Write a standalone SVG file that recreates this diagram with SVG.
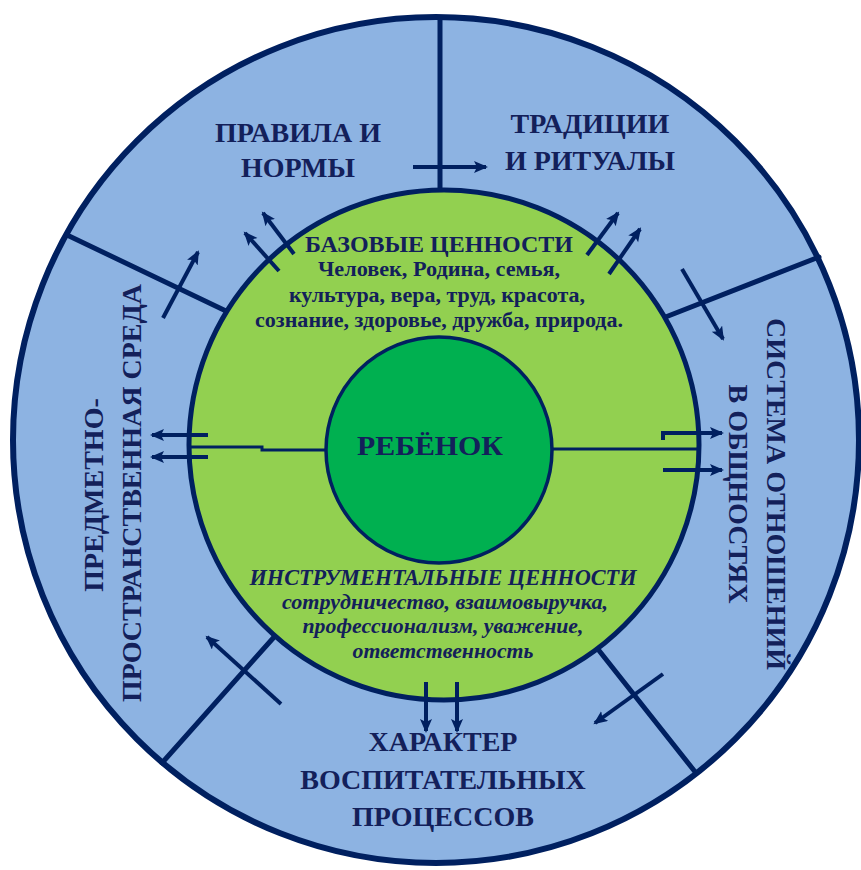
<svg xmlns="http://www.w3.org/2000/svg" width="861" height="870" viewBox="0 0 861 870">
<style>
.lbl{font-family:"Liberation Serif","Times New Roman",serif;font-weight:bold;fill:#13205a;text-anchor:middle}
.big{font-size:28px}
.mid{font-size:23px}
.sm{font-size:20px}
.it{font-style:italic}
.spoke{stroke:#002060;stroke-width:5;fill:none;stroke-linecap:round}
.arr{stroke:#002060;stroke-width:4;fill:none;marker-end:url(#ah)}
.thin{stroke:#002060;stroke-width:3;fill:none}
</style>
<defs>
<marker id="ah" markerUnits="userSpaceOnUse" markerWidth="16" markerHeight="14" refX="12" refY="6" orient="auto">
<path d="M0,0 L14,6 L0,12 L3,6 z" fill="#002060"/>
</marker>
</defs>
<rect width="861" height="870" fill="#ffffff"/>
<g id="outer-ring">
<circle cx="436" cy="440" r="423" fill="#8db3e2" stroke="#002060" stroke-width="6"/>
</g>
<g id="connectors">
<line class="spoke" x1="440" y1="18" x2="440" y2="190"/>
<line class="spoke" x1="67" y1="235" x2="226" y2="311"/>
<line class="spoke" x1="663" y1="318" x2="819" y2="257"/>
<line class="spoke" x1="275" y1="636" x2="162" y2="763"/>
<line class="spoke" x1="597" y1="648" x2="696" y2="773"/>
</g>
<g id="values-circle">
<circle cx="444" cy="445" r="255" fill="#92d050" stroke="#002060" stroke-width="5"/>
</g>
<g id="links">
<polyline class="thin" points="189,447 262,447 262,450 326,450"/>
<line class="thin" x1="552" y1="449" x2="699" y2="449"/>
</g>
<g id="child">
<circle cx="439" cy="450" r="113" fill="#00b050" stroke="#002060" stroke-width="3.5"/>
<text class="lbl big" x="430" y="455" textLength="146" lengthAdjust="spacingAndGlyphs">РЕБЁНОК</text>
</g>
<g id="arrows">
<line class="arr" x1="413" y1="167" x2="486" y2="167"/>
<line class="arr" x1="294" y1="254" x2="263" y2="213"/>
<line class="arr" x1="279" y1="271" x2="245" y2="233"/>
<line class="arr" x1="587" y1="255" x2="618" y2="213"/>
<line class="arr" x1="609" y1="274" x2="640" y2="229"/>
<line class="arr" x1="163" y1="318" x2="198" y2="252"/>
<line class="arr" x1="682" y1="269" x2="723" y2="339"/>
<line class="arr" x1="208" y1="435" x2="152" y2="435"/>
<line class="arr" x1="208" y1="457" x2="152" y2="457"/>
<polyline class="arr" points="663,440 663,433 722,433"/>
<line class="arr" x1="663" y1="470" x2="722" y2="470"/>
<line class="arr" x1="426" y1="682" x2="426" y2="731"/>
<line class="arr" x1="457" y1="682" x2="457" y2="731"/>
<line class="arr" x1="281" y1="704" x2="207" y2="637"/>
<line class="arr" x1="663" y1="674" x2="595" y2="723"/>
</g>
<g id="rules-norms">
<text class="lbl big" x="298" y="142">ПРАВИЛА И</text>
<text class="lbl big" x="298" y="177">НОРМЫ</text>
</g>
<g id="traditions">
<text class="lbl big" x="590" y="133">ТРАДИЦИИ</text>
<text class="lbl big" x="590" y="170">И РИТУАЛЫ</text>
</g>
<g id="relations">
<text class="lbl big" transform="translate(767,494) rotate(90)">СИСТЕМА ОТНОШЕНИЙ</text>
<text class="lbl big" transform="translate(729,494) rotate(90)">В ОБЩНОСТЯХ</text>
</g>
<g id="processes">
<text class="lbl big" x="443" y="751">ХАРАКТЕР</text>
<text class="lbl big" x="443" y="789">ВОСПИТАТЕЛЬНЫХ</text>
<text class="lbl big" x="443" y="826">ПРОЦЕССОВ</text>
</g>
<g id="environment">
<text class="lbl big" transform="translate(103,495) rotate(-90)">ПРЕДМЕТНО-</text>
<text class="lbl big" transform="translate(141,493) rotate(-90)">ПРОСТРАНСТВЕННАЯ СРЕДА</text>
</g>
<g id="base-values">
<text class="lbl mid" x="439" y="252" textLength="268" lengthAdjust="spacingAndGlyphs">БАЗОВЫЕ ЦЕННОСТИ</text>
<text class="lbl sm" x="439" y="276" textLength="242" lengthAdjust="spacingAndGlyphs">Человек, Родина, семья,</text>
<text class="lbl sm" x="437" y="302" textLength="296" lengthAdjust="spacingAndGlyphs">культура, вера, труд, красота,</text>
<text class="lbl sm" x="439" y="327" textLength="368" lengthAdjust="spacingAndGlyphs">сознание, здоровье, дружба, природа.</text>
</g>
<g id="instrumental-values">
<text class="lbl mid it" x="443" y="585" textLength="387" lengthAdjust="spacingAndGlyphs">ИНСТРУМЕНТАЛЬНЫЕ ЦЕННОСТИ</text>
<text class="lbl sm it" x="445" y="609" textLength="326" lengthAdjust="spacingAndGlyphs">сотрудничество, взаимовыручка,</text>
<text class="lbl sm it" x="443" y="633" textLength="281" lengthAdjust="spacingAndGlyphs">профессионализм, уважение,</text>
<text class="lbl sm it" x="443" y="658" textLength="181" lengthAdjust="spacingAndGlyphs">ответственность</text>
</g>
</svg>
